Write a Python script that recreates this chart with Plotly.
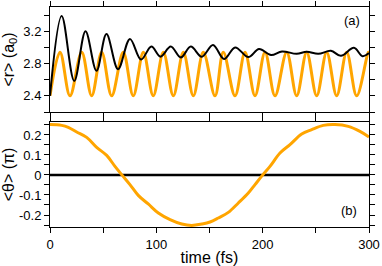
import plotly.graph_objects as go

# ---- data ----
# top panel, orange <r>: extrema (time fs, value a0)
r_orange_t = [0, 9.4, 18.8, 29.8, 39.2, 48.6, 58.0, 68.9, 78.3, 87.8, 97.1, 106.6, 116.0,
              125.4, 134.8, 144.2, 155.2, 163.0, 174.0, 183.4, 192.8, 202.2, 211.6, 222.6,
              232.0, 241.4, 250.8, 260.2, 269.6, 279.0, 288.4, 299.4, 300]
r_orange_v = [2.40, 2.94, 2.40, 2.94, 2.40, 2.94, 2.40, 2.94, 2.40, 2.94, 2.40, 2.94, 2.40,
              2.94, 2.40, 2.94, 2.40, 2.94, 2.40, 2.94, 2.40, 2.94, 2.40, 2.94,
              2.40, 2.94, 2.40, 2.94, 2.40, 2.94, 2.40, 2.94, 2.94]

# top panel, black <r>
r_black_t = [0, 11.0, 22.8, 33.4, 43.7, 53.1, 64.0, 75.2, 85.6, 95.3, 103.9, 113.6, 123.0,
             132.4, 142.7, 153.3, 163.7, 174.1, 186.5, 196.6, 207.9, 218.2, 232.0, 241.4,
             252.3, 264.2, 273.6, 285.8, 293.9, 300]
r_black_v = [2.40, 3.39, 2.585, 3.20, 2.71, 3.165, 2.73, 3.105, 2.85, 3.01, 2.885, 3.01, 2.875,
             3.01, 2.885, 3.03, 2.855, 3.00, 2.88, 2.98, 2.905, 2.95, 2.92, 2.945,
             2.92, 2.957, 2.895, 2.995, 2.89, 2.93]

# bottom panel, orange <theta> (units of pi)
th_t = [0, 11.0, 17.2, 25.1, 34.5, 43.9, 53.3, 61.1, 68.0, 75.2, 83.0, 92.4, 101.9, 112.9,
        123.9, 133.3, 142.7, 150.5, 158.3, 167.7, 177.1, 186.5, 192.8, 199.7, 206.9, 216.3,
        225.7, 236.7, 246.1, 257.0, 268.0, 280.5, 291.5, 300]
th_v = [0.252, 0.248, 0.238, 0.215, 0.188, 0.138, 0.098, 0.043, -0.002, -0.048, -0.102,
        -0.145, -0.19, -0.223, -0.245, -0.252, -0.245, -0.235, -0.215, -0.187, -0.14,
        -0.09, -0.048, -0.002, 0.043, 0.11, 0.152, 0.205, 0.227, 0.248, 0.252, 0.243,
        0.218, 0.19]

zero_t = [0, 300]
zero_v = [0, 0]

x_ticks = [0, 100, 200, 300]
r_ticks = [2.4, 2.8, 3.2]
r_ticktext = ["2.4", "2.8", "3.2"]
th_ticks = [-0.2, -0.1, 0, 0.1, 0.2]
th_ticktext = ["-0.2", "-0.1", "0", "0.1", "0.2"]

ORANGE = "#FFA500"
FONT = "Liberation Sans, Arial, Helvetica, sans-serif"

fig = go.Figure()
fig.add_trace(go.Scatter(x=r_orange_t, y=r_orange_v, mode="lines",
                         line=dict(color=ORANGE, width=3, shape="spline", smoothing=1.0),
                         xaxis="x", yaxis="y", showlegend=False, hoverinfo="skip"))
fig.add_trace(go.Scatter(x=r_black_t, y=r_black_v, mode="lines",
                         line=dict(color="black", width=2, shape="spline", smoothing=1.0),
                         xaxis="x", yaxis="y", showlegend=False, hoverinfo="skip"))
fig.add_trace(go.Scatter(x=zero_t, y=zero_v, mode="lines",
                         line=dict(color="black", width=2.5),
                         xaxis="x2", yaxis="y2", showlegend=False, hoverinfo="skip"))
fig.add_trace(go.Scatter(x=th_t, y=th_v, mode="lines",
                         line=dict(color=ORANGE, width=3, shape="spline", smoothing=1.0),
                         xaxis="x2", yaxis="y2", showlegend=False, hoverinfo="skip"))

common_x = dict(range=[0, 300], tickvals=x_ticks, ticks="outside", ticklen=5,
                tickcolor="black", showline=True, linecolor="black", linewidth=1,
                mirror="allticks", showgrid=False, zeroline=False, automargin=False,
                minor=dict(dtick=50, tick0=0, ticks="outside", ticklen=5, tickcolor="black"))
common_y = dict(ticks="outside", ticklen=5, tickcolor="black", showline=True,
                linecolor="black", linewidth=1, mirror="allticks", showgrid=False,
                zeroline=False, automargin=False)

fig.update_layout(
    width=382, height=266,
    margin=dict(l=50, r=13, t=7, b=39),
    paper_bgcolor="white", plot_bgcolor="white",
    font=dict(family=FONT, size=13, color="black"),
    xaxis=dict(**common_x, domain=[0, 1], anchor="y", showticklabels=False),
    yaxis=dict(**common_y, domain=[0.5227, 1], anchor="x", range=[2.2, 3.5],
               tickvals=r_ticks, ticktext=r_ticktext,
               minor=dict(dtick=0.2, tick0=2.2, ticks="outside", ticklen=5, tickcolor="black"),
               title=dict(text="<r> (a<sub>0</sub>)", standoff=6)),
    xaxis2=dict(**common_x, domain=[0, 1], anchor="y2", matches="x",
                title=dict(text="time (fs)", standoff=2)),
    yaxis2=dict(**common_y, domain=[0, 0.4773], anchor="x2", range=[-0.26, 0.265],
                tickvals=th_ticks, ticktext=th_ticktext,
                minor=dict(dtick=0.05, tick0=0, ticks="outside", ticklen=5, tickcolor="black"),
                title=dict(text="<θ> (π)", standoff=4)),
    annotations=[
        dict(text="(a)", x=284, y=3.335, xref="x", yref="y", showarrow=False,
             font=dict(size=13)),
        dict(text="(b)", x=281, y=-0.175, xref="x2", yref="y2", showarrow=False,
             font=dict(size=13)),
    ],
)

fig.write_html("out.html", config={"displayModeBar": False},
               post_script="document.body.style.margin='0';document.body.style.overflow='hidden';")
